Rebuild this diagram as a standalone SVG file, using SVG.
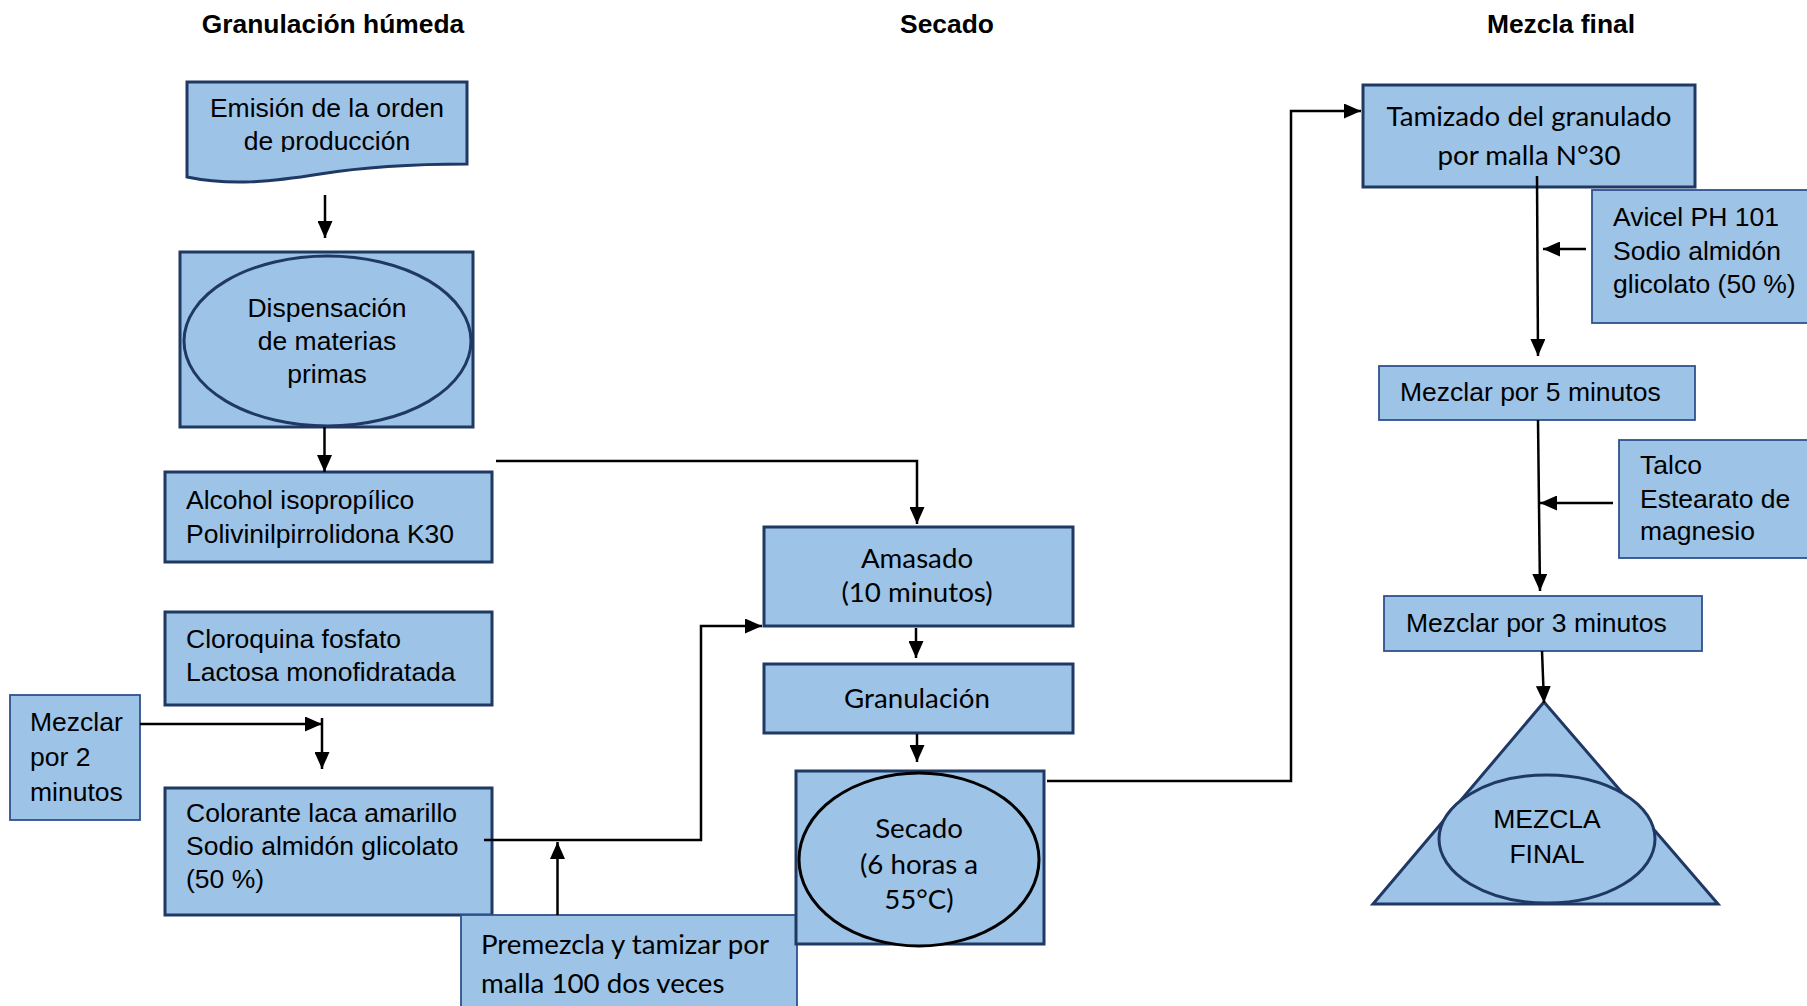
<svg xmlns="http://www.w3.org/2000/svg" width="1807" height="1006" viewBox="0 0 1807 1006">
  <style>
    .bg { fill: #ffffff; }
    .box { fill: #9DC3E6; stroke: #1F3864; stroke-width: 3; }
    .thin { fill: #9DC3E6; stroke: #2F528F; stroke-width: 1.8; }
    .oval { fill: #9DC3E6; stroke: #1F3864; stroke-width: 3; }
    .ovalk { fill: #9DC3E6; stroke: #000000; stroke-width: 3; }
    .title { font-family: "Liberation Sans", Arial, sans-serif; font-weight: bold; font-size: 26.4px; fill: #000; text-anchor: middle; }
    .ar { font-family: "Liberation Sans", Arial, sans-serif; font-size: 26.5px; fill: #000; }
    .cb { font-family: Lato, "Open Sans", sans-serif; font-size: 27.7px; fill: #000; }
    .mid { text-anchor: middle; }
    .conn { fill: none; stroke: #000; stroke-width: 2.5; }
  </style>
  <defs>
    <marker id="ah" markerUnits="userSpaceOnUse" markerWidth="17" markerHeight="15" refX="17" refY="7.5" orient="auto">
      <path d="M0,0 L17,7.5 L0,15 Z" fill="#000"/>
    </marker>
    <clipPath id="clipEmision">
      <rect x="180" y="80" width="300" height="72"/>
    </clipPath>
  </defs>
  <rect class="bg" x="0" y="0" width="1807" height="1006"/>

  <g id="titles">
    <text class="title" x="333" y="33">Granulación húmeda</text>
    <text class="title" x="947" y="33">Secado</text>
    <text class="title" x="1561" y="33">Mezcla final</text>
  </g>

  <g id="node-emision">
    <path class="box" d="M187,82 H467 V164 C420,164 370,166 320,174 C270,182 230,186 187,177 Z"/>
    <g clip-path="url(#clipEmision)">
      <text class="ar mid" x="327" y="117">Emisión de la orden</text>
      <text class="ar mid" x="327" y="150">de producción</text>
    </g>
  </g>

  <g id="node-dispensacion">
    <rect class="box" x="180" y="252" width="293" height="175"/>
    <ellipse class="oval" cx="327.5" cy="341" rx="143.5" ry="85"/>
    <text class="ar mid" x="327" y="317">Dispensación</text>
    <text class="ar mid" x="327" y="350">de materias</text>
    <text class="ar mid" x="327" y="383">primas</text>
  </g>

  <g id="node-alcohol">
    <rect class="box" x="165" y="472" width="327" height="90"/>
    <text class="ar" x="186" y="509">Alcohol isopropílico</text>
    <text class="ar" x="186" y="543">Polivinilpirrolidona K30</text>
  </g>

  <g id="node-cloroquina">
    <rect class="box" x="165" y="612" width="327" height="93"/>
    <text class="ar" x="186" y="648">Cloroquina fosfato</text>
    <text class="ar" x="186" y="681">Lactosa monofidratada</text>
  </g>

  <g id="node-mezclar2">
    <rect class="thin" x="10" y="695" width="130" height="125"/>
    <text class="ar" x="30" y="731">Mezclar</text>
    <text class="ar" x="30" y="766">por 2</text>
    <text class="ar" x="30" y="801">minutos</text>
  </g>

  <g id="node-colorante">
    <rect class="box" x="165" y="788" width="327" height="127"/>
    <text class="ar" x="186" y="822">Colorante laca amarillo</text>
    <text class="ar" x="186" y="855">Sodio almidón glicolato</text>
    <text class="ar" x="186" y="888">(50 %)</text>
  </g>

  <g id="node-premezcla">
    <rect class="thin" x="461" y="915" width="336" height="100"/>
    <text class="cb" x="481" y="954">Premezcla y tamizar por</text>
    <text class="cb" x="481" y="993">malla 100 dos veces</text>
  </g>

  <g id="node-amasado">
    <rect class="box" x="764" y="527" width="309" height="99"/>
    <text class="cb mid" x="917" y="568">Amasado</text>
    <text class="cb mid" x="917" y="602">(10 minutos)</text>
  </g>

  <g id="node-granulacion">
    <rect class="box" x="764" y="664" width="309" height="69"/>
    <text class="cb mid" x="917" y="708">Granulación</text>
  </g>

  <g id="node-secado">
    <rect class="box" x="796" y="771" width="248" height="173"/>
    <ellipse class="ovalk" cx="919" cy="859.5" rx="120" ry="86.5"/>
    <text class="cb mid" x="919" y="838">Secado</text>
    <text class="cb mid" x="919" y="874">(6 horas a</text>
    <text class="cb mid" x="919" y="909">55°C)</text>
  </g>

  <g id="node-tamizado">
    <rect class="box" x="1363" y="85" width="332" height="102"/>
    <text class="cb mid" x="1529" y="126">Tamizado del granulado</text>
    <text class="cb mid" x="1529" y="165">por malla N°30</text>
  </g>

  <g id="node-avicel">
    <rect class="thin" x="1592" y="190" width="225" height="133"/>
    <text class="ar" x="1613" y="226">Avicel PH 101</text>
    <text class="ar" x="1613" y="260">Sodio almidón</text>
    <text class="ar" x="1613" y="293">glicolato (50 %)</text>
  </g>

  <g id="node-mezclar5">
    <rect class="thin" x="1379" y="366" width="316" height="54"/>
    <text class="ar" x="1400" y="401">Mezclar por 5 minutos</text>
  </g>

  <g id="node-talco">
    <rect class="thin" x="1619" y="440" width="195" height="118"/>
    <text class="ar" x="1640" y="474">Talco</text>
    <text class="ar" x="1640" y="508">Estearato de</text>
    <text class="ar" x="1640" y="540">magnesio</text>
  </g>

  <g id="node-mezclar3">
    <rect class="thin" x="1384" y="596" width="318" height="55"/>
    <text class="ar" x="1406" y="632">Mezclar por 3 minutos</text>
  </g>

  <g id="node-mezcla-final">
    <polygon class="box" points="1544,702 1373,904 1718,904"/>
    <ellipse class="oval" cx="1547" cy="839" rx="108" ry="64"/>
    <text class="ar mid" x="1547" y="828">MEZCLA</text>
    <text class="ar mid" x="1547" y="863">FINAL</text>
  </g>

  <g id="connectors">
    <line class="conn" x1="325" y1="195" x2="325" y2="238" marker-end="url(#ah)"/>
    <line class="conn" x1="324.5" y1="427" x2="324.5" y2="472" marker-end="url(#ah)"/>
    <polyline class="conn" points="496,461 917,461 917,524" marker-end="url(#ah)"/>
    <line class="conn" x1="140" y1="724" x2="322" y2="724" marker-end="url(#ah)"/>
    <line class="conn" x1="322" y1="718" x2="322" y2="769" marker-end="url(#ah)"/>
    <polyline class="conn" points="484,840 701,840 701,626 762,626" marker-end="url(#ah)"/>
    <line class="conn" x1="557.5" y1="915" x2="557.5" y2="842" marker-end="url(#ah)"/>
    <line class="conn" x1="916" y1="628" x2="916" y2="658" marker-end="url(#ah)"/>
    <line class="conn" x1="917" y1="734" x2="917" y2="762" marker-end="url(#ah)"/>
    <polyline class="conn" points="1047,781 1291,781 1291,111 1361,111" marker-end="url(#ah)"/>
    <line class="conn" x1="1537" y1="176" x2="1538" y2="356" marker-end="url(#ah)"/>
    <line class="conn" x1="1586" y1="249" x2="1543" y2="249" marker-end="url(#ah)"/>
    <line class="conn" x1="1538" y1="420" x2="1540" y2="591" marker-end="url(#ah)"/>
    <line class="conn" x1="1613" y1="503" x2="1540" y2="503" marker-end="url(#ah)"/>
    <line class="conn" x1="1542" y1="651" x2="1544" y2="703" marker-end="url(#ah)"/>
  </g>
</svg>
